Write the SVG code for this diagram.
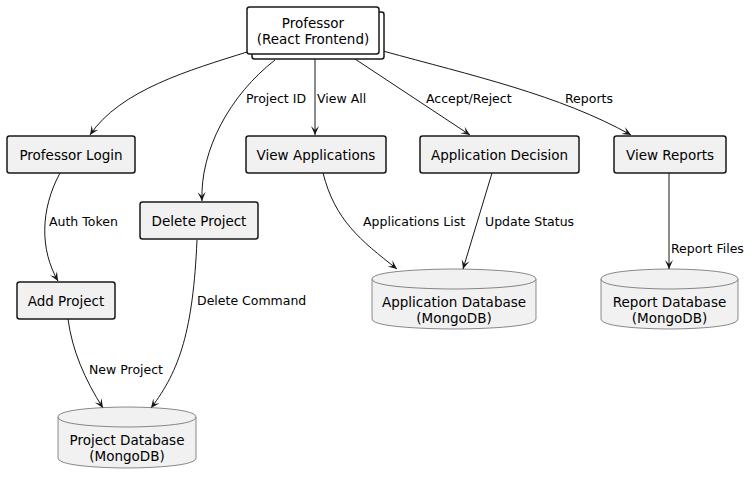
<svg xmlns="http://www.w3.org/2000/svg" width="754" height="485" viewBox="0 0 754 485">
<style>
text{font-family:"DejaVu Sans","Liberation Sans",sans-serif;fill:#000}
.n{font-size:13.5px;text-anchor:middle}
.l{font-size:12.5px}
.box{fill:#F1F1F1;stroke:#181818;stroke-width:1.5}
.db{fill:#F1F1F1;stroke:#181818;stroke-width:0.5}
.e{fill:none;stroke:#181818;stroke-width:1}
</style>
<defs>
<marker id="ah" viewBox="-10 -5 11 10" refX="0" refY="0" markerWidth="11" markerHeight="10" markerUnits="userSpaceOnUse" orient="auto">
<path d="M0,0 L-9,-4 L-5,0 L-9,4 Z" fill="#181818"/>
</marker>
</defs>
<rect width="754" height="485" fill="#fff"/>
<g id="connectors">
<path class="e" marker-end="url(#ah)" d="M247,52 C190,70 120,90 90,135"/>
<path class="e" marker-end="url(#ah)" d="M275,60 C230,95 200,150 202,201"/>
<path class="e" marker-end="url(#ah)" d="M315,59 L315,135"/>
<path class="e" marker-end="url(#ah)" d="M355,59 L470,135"/>
<path class="e" marker-end="url(#ah)" d="M383,51 C470,75 560,95 631,135"/>
<path class="e" marker-end="url(#ah)" d="M60,173 C40,210 40,250 58,281"/>
<path class="e" marker-end="url(#ah)" d="M197,240 C193,330 180,370 151,408"/>
<path class="e" marker-end="url(#ah)" d="M68,319 C72,350 85,380 103,408"/>
<path class="e" marker-end="url(#ah)" d="M323,173 C335,220 360,240 397,269"/>
<path class="e" marker-end="url(#ah)" d="M492,173 L463,269"/>
<path class="e" marker-end="url(#ah)" d="M669,173 L669,269"/>
<text class="l" x="246" y="103">Project ID</text>
<text class="l" x="317" y="103">View All</text>
<text class="l" x="426" y="103">Accept/Reject</text>
<text class="l" x="565" y="103">Reports</text>
<text class="l" x="49" y="226">Auth Token</text>
<text class="l" x="363" y="226">Applications List</text>
<text class="l" x="485" y="226">Update Status</text>
<text class="l" x="197" y="305">Delete Command</text>
<text class="l" x="671" y="253">Report Files</text>
<text class="l" x="89" y="374">New Project</text>
</g>
<g id="professor">
<rect x="252" y="12" width="132" height="47" rx="2.5" fill="#fff" stroke="#181818" stroke-width="1.5"/>
<rect x="247" y="7" width="132" height="47" rx="2.5" fill="#fff" stroke="#181818" stroke-width="1.5"/>
<text class="n" x="313" y="28">Professor</text>
<text class="n" x="313" y="44">(React Frontend)</text>
</g>
<g id="professor-login">
<rect class="box" x="7" y="136" width="128" height="37" rx="2.5"/>
<text class="n" x="71" y="159.5">Professor Login</text>
</g>
<g id="delete-project">
<rect class="box" x="140" y="202" width="118" height="37" rx="2.5"/>
<text class="n" x="199" y="225.5">Delete Project</text>
</g>
<g id="view-applications">
<rect class="box" x="246" y="136" width="140" height="37" rx="2.5"/>
<text class="n" x="316" y="159.5">View Applications</text>
</g>
<g id="application-decision">
<rect class="box" x="420" y="136" width="159" height="37" rx="2.5"/>
<text class="n" x="499.5" y="159.5">Application Decision</text>
</g>
<g id="view-reports">
<rect class="box" x="614" y="136" width="112" height="37" rx="2.5"/>
<text class="n" x="670" y="159.5">View Reports</text>
</g>
<g id="add-project">
<rect class="box" x="17" y="282" width="98" height="37" rx="2.5"/>
<text class="n" x="66" y="305.5">Add Project</text>
</g>
<g id="application-db">
<path class="db" d="M372,279 C372,269 454,269 454,269 C454,269 536,269 536,279 L536,319 C536,329 454,329 454,329 C454,329 372,329 372,319 Z"/>
<path class="db" fill="none" d="M372,279 C372,289 454,289 454,289 C454,289 536,289 536,279"/>
<text class="n" x="454" y="307">Application Database</text>
<text class="n" x="454" y="323">(MongoDB)</text>
</g>
<g id="report-db">
<path class="db" d="M601,279 C601,269 669.5,269 669.5,269 C669.5,269 738,269 738,279 L738,319 C738,329 669.5,329 669.5,329 C669.5,329 601,329 601,319 Z"/>
<path class="db" fill="none" d="M601,279 C601,289 669.5,289 669.5,289 C669.5,289 738,289 738,279"/>
<text class="n" x="669.5" y="307">Report Database</text>
<text class="n" x="669.5" y="323">(MongoDB)</text>
</g>
<g id="project-db">
<path class="db" d="M58,417 C58,407 127,407 127,407 C127,407 196,407 196,417 L196,458 C196,468 127,468 127,468 C127,468 58,468 58,458 Z"/>
<path class="db" fill="none" d="M58,417 C58,427 127,427 127,427 C127,427 196,427 196,417"/>
<text class="n" x="127" y="445">Project Database</text>
<text class="n" x="127" y="461">(MongoDB)</text>
</g>
</svg>
